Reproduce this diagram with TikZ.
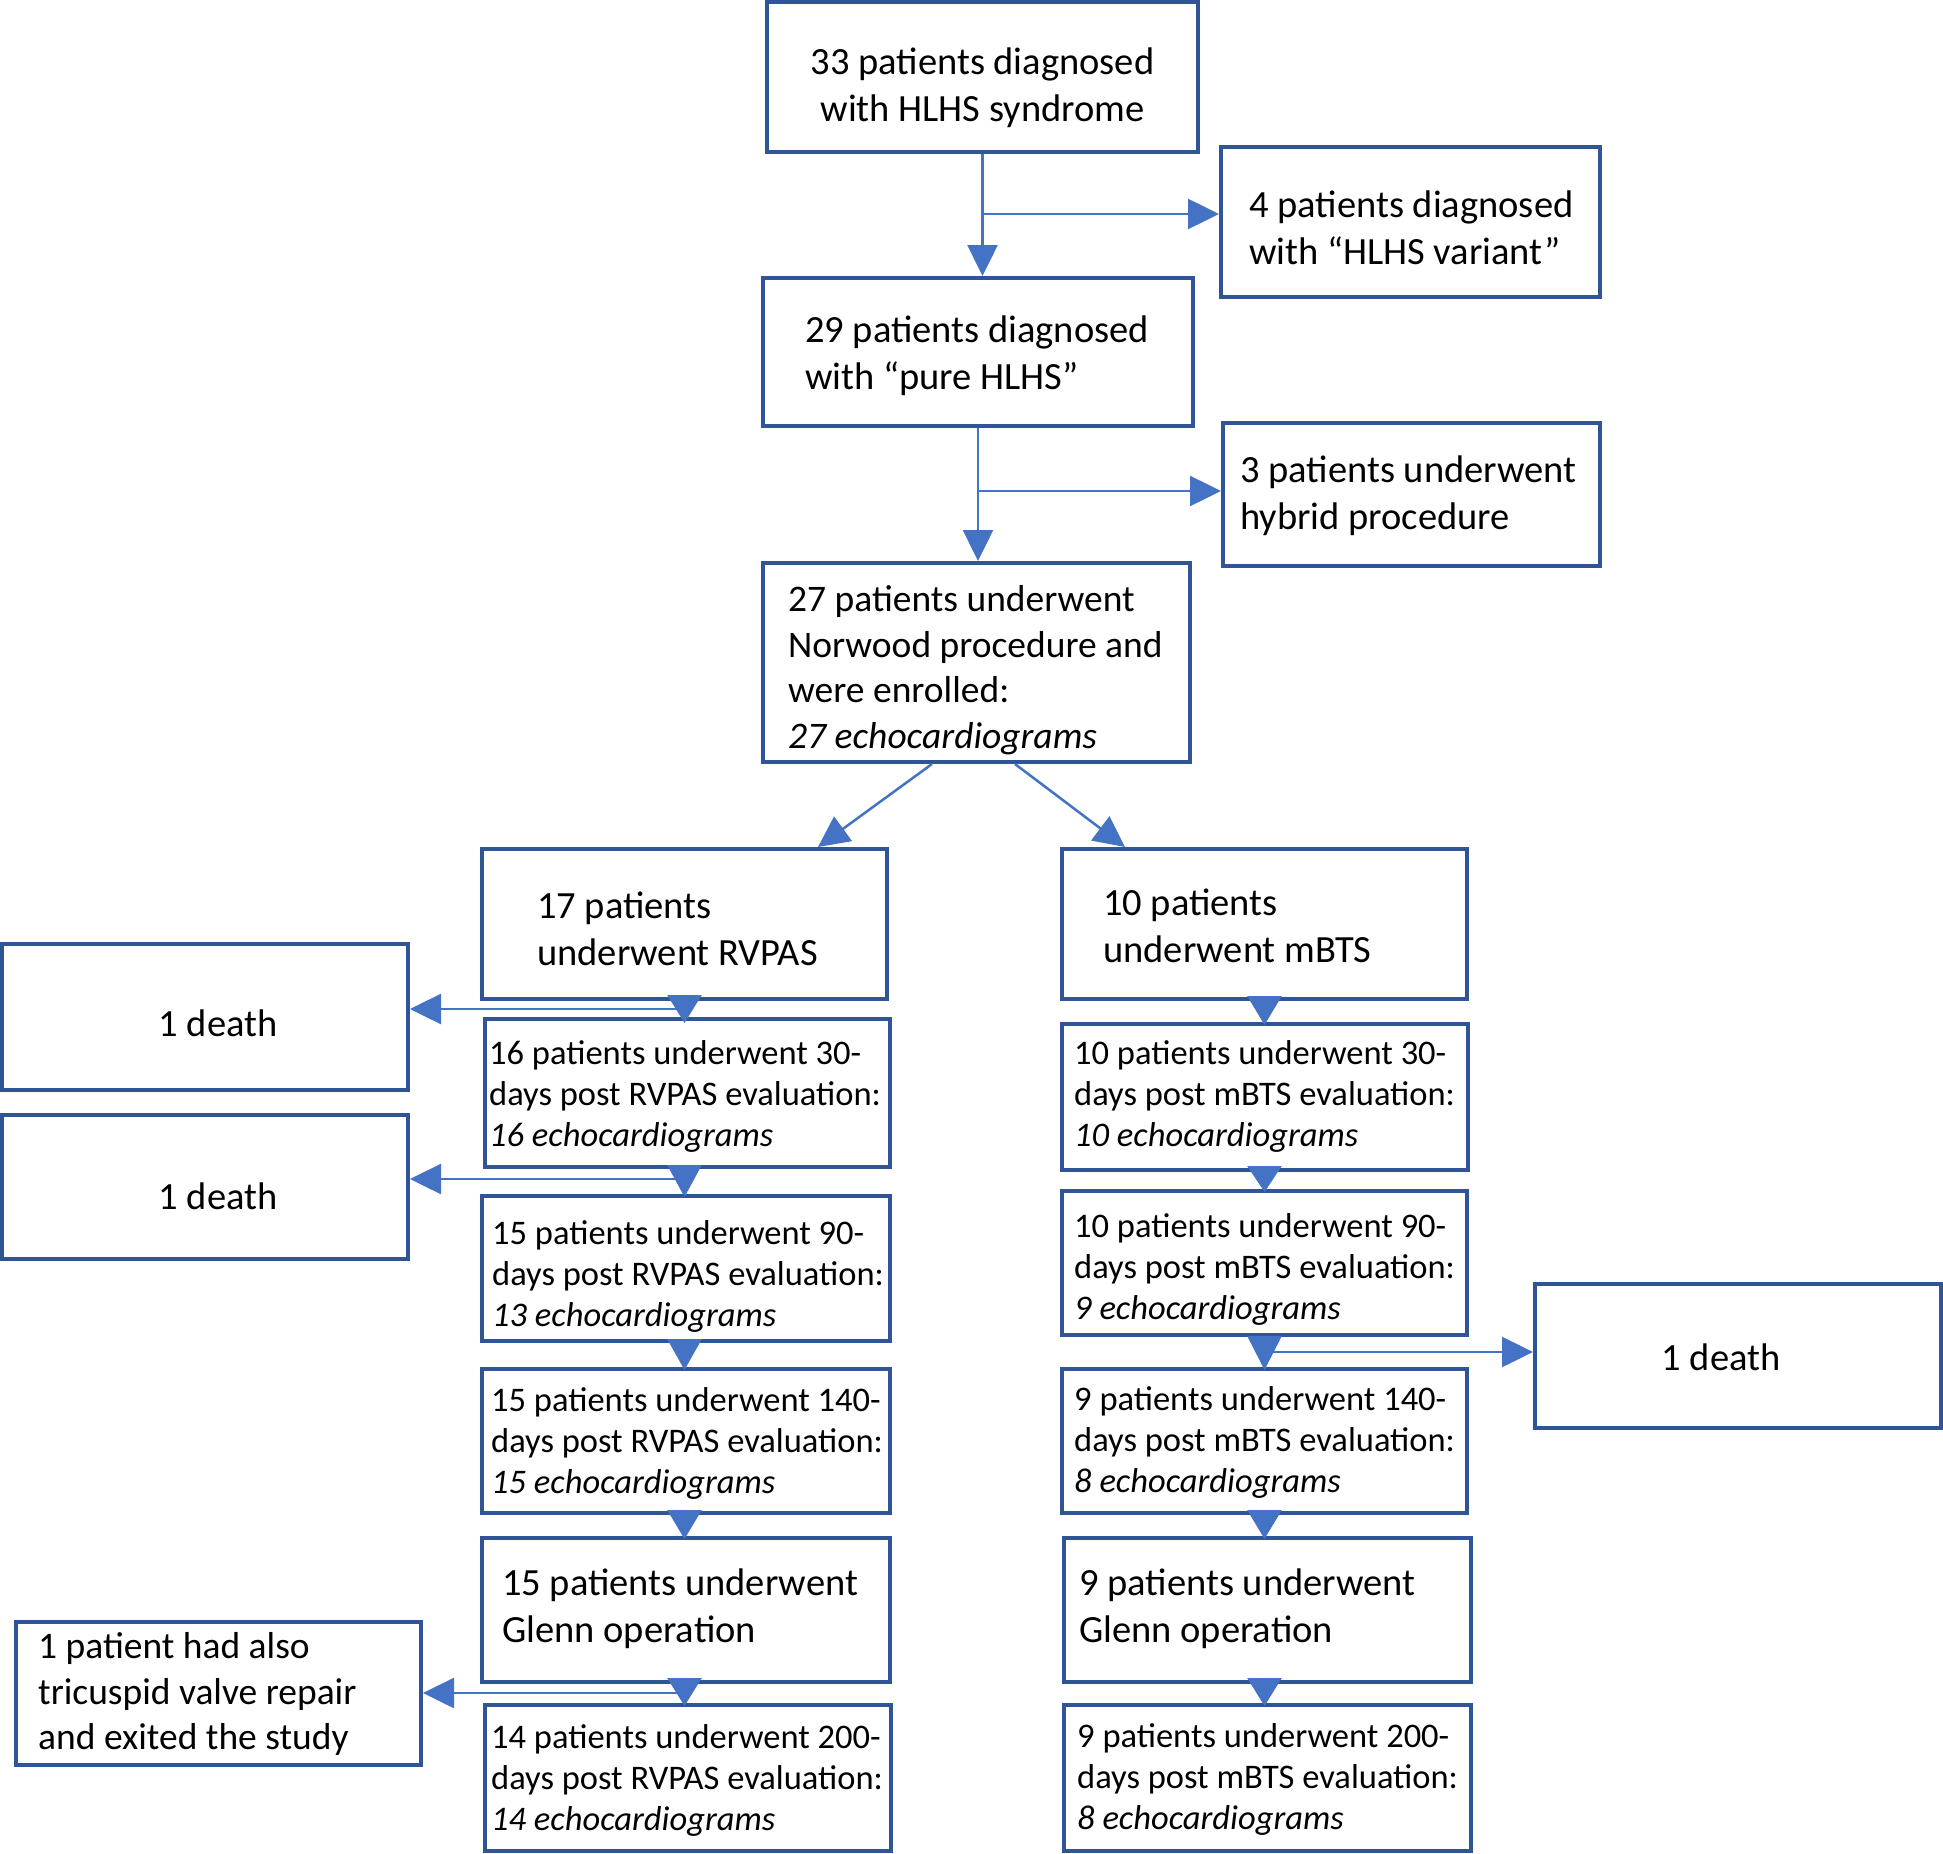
\documentclass[tikz,border=0pt]{standalone}
\usepackage{fontspec}
\setmainfont{Carlito}
\usetikzlibrary{arrows.meta,calc}
\definecolor{boxblue}{HTML}{2F5597}
\definecolor{arrblue}{HTML}{4472C4}
\begin{document}
\begin{tikzpicture}[x=1pt,y=-1pt,
  bbox/.style={draw=boxblue, line width=4pt, inner sep=0pt},
  big/.style={font=\fontsize{38.5}{47}\selectfont, align=left, inner sep=0pt, anchor=west},
  nor/.style={font=\fontsize{37.5}{45.5}\selectfont, align=left, inner sep=0pt, anchor=west},
  small/.style={font=\fontsize{34.5}{41}\selectfont, align=left, inner sep=0pt, anchor=west},
  arr/.style={draw=arrblue, line width=2.5pt, -{Triangle[length=31pt,width=30pt]}},
  sarr/.style={draw=arrblue, line width=2.5pt, -{Triangle[length=#1,width=34pt]}, shorten >=-3pt},
  ]
\useasboundingbox (0,0) rectangle (1943,1854);

% boxes
\node[bbox, minimum width=431pt, minimum height=150pt] (A) at (982.5,77) {};
\node[bbox, minimum width=379pt, minimum height=150pt] (B) at (1410.5,222) {};
\node[bbox, minimum width=430pt, minimum height=148pt] (C) at (978,352) {};
\node[bbox, minimum width=377pt, minimum height=143pt] (D) at (1411.5,494.5) {};
\node[bbox, minimum width=427pt, minimum height=199pt] (E) at (976.5,662.5) {};
\node[bbox, minimum width=405pt, minimum height=150pt] (F) at (684.5,924) {};
\node[bbox, minimum width=405pt, minimum height=150pt] (G) at (1264.5,924) {};
\node[bbox, minimum width=406pt, minimum height=146pt] (H1) at (205,1017) {};
\node[bbox, minimum width=405pt, minimum height=148pt] (L1) at (687.5,1093) {};
\node[bbox, minimum width=406pt, minimum height=144pt] (H2) at (205,1187) {};
\node[bbox, minimum width=408pt, minimum height=145pt] (L2) at (686,1268.5) {};
\node[bbox, minimum width=408pt, minimum height=144pt] (L3) at (686,1441) {};
\node[bbox, minimum width=408pt, minimum height=144pt] (L4) at (686,1610) {};
\node[bbox, minimum width=405pt, minimum height=143pt] (H3) at (218.5,1693.5) {};
\node[bbox, minimum width=406pt, minimum height=146pt] (L5) at (688,1778) {};
\node[bbox, minimum width=406pt, minimum height=146pt] (R1) at (1265,1097) {};
\node[bbox, minimum width=405pt, minimum height=144pt] (R2) at (1264.5,1263) {};
\node[bbox, minimum width=406pt, minimum height=144pt] (H4) at (1738,1356) {};
\node[bbox, minimum width=405pt, minimum height=144pt] (R3) at (1264.5,1441) {};
\node[bbox, minimum width=407pt, minimum height=144pt] (R4) at (1267.5,1610) {};
\node[bbox, minimum width=407pt, minimum height=146pt] (R5) at (1267.5,1778) {};

% texts
\node[big, anchor=center, align=center] (tA) at (982.5,88) {33 patients diagnosed\\with HLHS syndrome};
\node[big] (tB) at (1249,228) {4 patients diagnosed\\with “HLHS variant”};
\node[big] (tC) at (805,356) {29 patients diagnosed\\with “pure HLHS”};
\node[big] (tD) at (1240,496) {3 patients underwent\\hybrid procedure};
\node[nor] (tE) at (788,670) {27 patients underwent\\Norwood procedure and\\were enrolled:\\\textit{27 echocardiograms}};
\node[big] (tF) at (537,929) {17 patients\\underwent RVPAS};
\node[big] (tG) at (1103,926) {10 patients\\underwent mBTS};
\node[big, anchor=center] (tH1) at (218,1023) {1 death};
\node[small] (tL1) at (489,1096) {16 patients underwent 30-\\days post RVPAS evaluation:\\\textit{16 echocardiograms}};
\node[big, anchor=center] (tH2) at (218,1196) {1 death};
\node[small] (tL2) at (492,1276) {15 patients underwent 90-\\days post RVPAS evaluation:\\\textit{13 echocardiograms}};
\node[small] (tL3) at (491,1443) {15 patients underwent 140-\\days post RVPAS evaluation:\\\textit{15 echocardiograms}};
\node[big] (tL4) at (502,1609) {15 patients underwent\\Glenn operation};
\node[nor] (tH3) at (38,1694) {1 patient had also\\tricuspid valve repair\\and exited the study};
\node[small] (tL5) at (491,1780) {14 patients underwent 200-\\days post RVPAS evaluation:\\\textit{14 echocardiograms}};
\node[small] (tR1) at (1074,1096) {10 patients underwent 30-\\days post mBTS evaluation:\\\textit{10 echocardiograms}};
\node[small] (tR2) at (1074,1269) {10 patients underwent 90-\\days post mBTS evaluation:\\\textit{9 echocardiograms}};
\node[big, anchor=center] (tH4) at (1721,1357) {1 death};
\node[small] (tR3) at (1074,1442) {9 patients underwent 140-\\days post mBTS evaluation:\\\textit{8 echocardiograms}};
\node[big] (tR4) at (1079,1609) {9 patients underwent\\Glenn operation};
\node[small] (tR5) at (1077,1779) {9 patients underwent 200-\\days post mBTS evaluation:\\\textit{8 echocardiograms}};

% connectors
\draw[arr] (A.south) -- (A.south |- C.north);
\coordinate (ab) at (A.south |- 0,214);
\draw[arr] (ab) -- (ab -| B.west);
\draw[arr] (C.south) -- (C.south |- E.north);
\coordinate (cd) at (C.south |- 0,491);
\draw[arr] (cd) -- (cd -| D.west);
\draw[arr] ($(E.south)+(-44.5,0)$) -- ($(F.north)+(133.5,0)$);
\draw[arr] ($(E.south)+(38.5,0)$) -- ($(G.north)+(-139.5,0)$);

\draw[sarr=28pt, shorten >=-6pt] (F.south) -- (F.south |- L1.north);
\coordinate (f1) at (F.south |- 0,1009);
\draw[arr] (f1) -- (f1 -| H1.east);
\draw[sarr=32pt] (L1.south -| F.south) -- (F.south |- L2.north);
\coordinate (f2) at (F.south |- 0,1179);
\draw[arr] (f2) -- (f2 -| H2.east);
\draw[sarr=31pt] (L2.south -| F.south) -- (F.south |- L3.north);
\draw[sarr=29pt] (L3.south -| F.south) -- (F.south |- L4.north);
\draw[sarr=28pt] (L4.south -| F.south) -- (F.south |- L5.north);
\coordinate (f3) at (F.south |- 0,1693);
\draw[arr] (f3) -- (f3 -| H3.east);

\draw[sarr=29pt] (G.south) -- (G.south |- R1.north);
\draw[sarr=26pt] (R1.south -| G.south) -- (G.south |- R2.north);
\draw[sarr=34pt] (R2.south -| G.south) -- (G.south |- R3.north);
\coordinate (g1) at (G.south |- 0,1352);
\draw[arr] (g1) -- (g1 -| H4.west);
\draw[sarr=29pt] (R3.south -| G.south) -- (G.south |- R4.north);
\draw[sarr=28pt] (R4.south -| G.south) -- (G.south |- R5.north);
\end{tikzpicture}
\end{document}
